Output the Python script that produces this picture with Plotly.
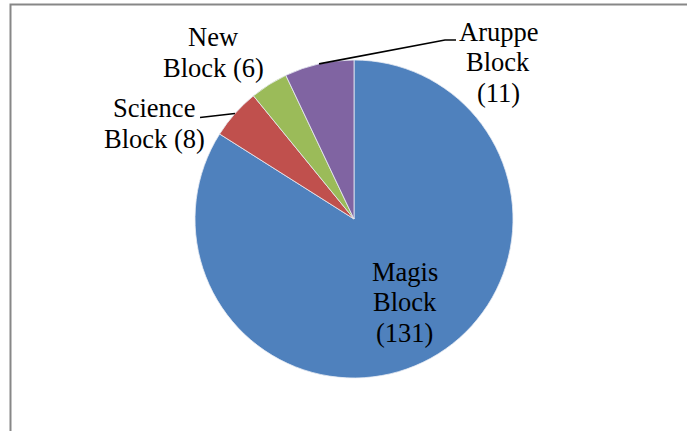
import plotly.graph_objects as go
import math

# Campus blocks and their counts
blocks = ["Magis Block", "Science Block", "New Block", "Aruppe Block"]
counts = [131, 8, 6, 11]
slice_colors = ["#4F81BD", "#C0504D", "#9BBB59", "#8064A2"]

# How the words of each label are split across lines (word indices per line;
# the last "word" is the count in brackets)
line_groups = {
    "Magis Block": [[0], [1], [2]],
    "Science Block": [[0], [1, 2]],
    "New Block": [[0], [1, 2]],
    "Aruppe Block": [[0], [1], [2]],
}

W, H = 687, 431
CX, CY, R = 354, 219, 159          # pie centre and radius in pixels
FONT = "Liberation Serif"
FS = 26.5
LINE_GAP = 30.5

# label placement: (centre x, baseline of first line) in pixels
label_pos = {
    "Magis Block": (404.5, 280.5),
    "Science Block": (154, 117),
    "New Block": (213, 46),
    "Aruppe Block": (498, 40.5),
}


def px(x, y):
    return x / W, 1 - y / H


fig = go.Figure()

dx0, dy0 = px(CX - R, CY + R)
dx1, dy1 = px(CX + R, CY - R)
fig.add_trace(go.Pie(
    labels=blocks,
    values=counts,
    sort=False,
    direction="clockwise",
    rotation=0,
    textinfo="none",
    hoverinfo="label+value",
    marker=dict(colors=slice_colors, line=dict(color="#E8ECF4", width=0.8)),
    domain=dict(x=[dx0, dx1], y=[dy0, dy1]),
    showlegend=False,
))

# mid-angle point on the rim of every slice
total = sum(counts)
rim = {}
acc = 0
for name, v in zip(blocks, counts):
    mid = math.radians((acc + v / 2) / total * 360)
    rim[name] = (CX + R * math.sin(mid), CY - R * math.cos(mid))
    acc += v

annotations = []
for name, v in zip(blocks, counts):
    words = name.split() + [f"({v})"]
    cx, base = label_pos[name]
    for i, grp in enumerate(line_groups[name]):
        text = " ".join(words[j] for j in grp)
        lx, ly = px(cx, base + i * LINE_GAP - 0.3375 * FS)
        annotations.append(dict(
            x=lx, y=ly, xref="paper", yref="paper",
            xanchor="center", yanchor="middle",
            text=text, showarrow=False,
            font=dict(family=FONT, size=FS, color="#000000"),
        ))

# leader lines for the two outer labels
def path(points):
    pts = [px(x, y) for x, y in points]
    return "M " + " L ".join(f"{x:.5f},{y:.5f}" for x, y in pts)


shapes = [
    dict(type="path", xref="paper", yref="paper",
         path=path([rim["Science Block"], (200, 117.5)]),
         line=dict(color="#000000", width=1.6)),
    dict(type="path", xref="paper", yref="paper",
         path=path([rim["Aruppe Block"], (445, 40), (456, 40)]),
         line=dict(color="#000000", width=1.6)),
    # chart frame
    dict(type="path", xref="paper", yref="paper",
         path=path([(10.5, H + 5), (10.5, 4.5), (W + 5, 4.5)]),
         line=dict(color="#878787", width=2)),
]

fig.update_layout(
    width=W, height=H,
    margin=dict(l=0, r=0, t=0, b=0),
    paper_bgcolor="#FFFFFF",
    plot_bgcolor="#FFFFFF",
    font=dict(family=FONT),
    annotations=annotations,
    shapes=shapes,
)

fig.write_html("out.html")
